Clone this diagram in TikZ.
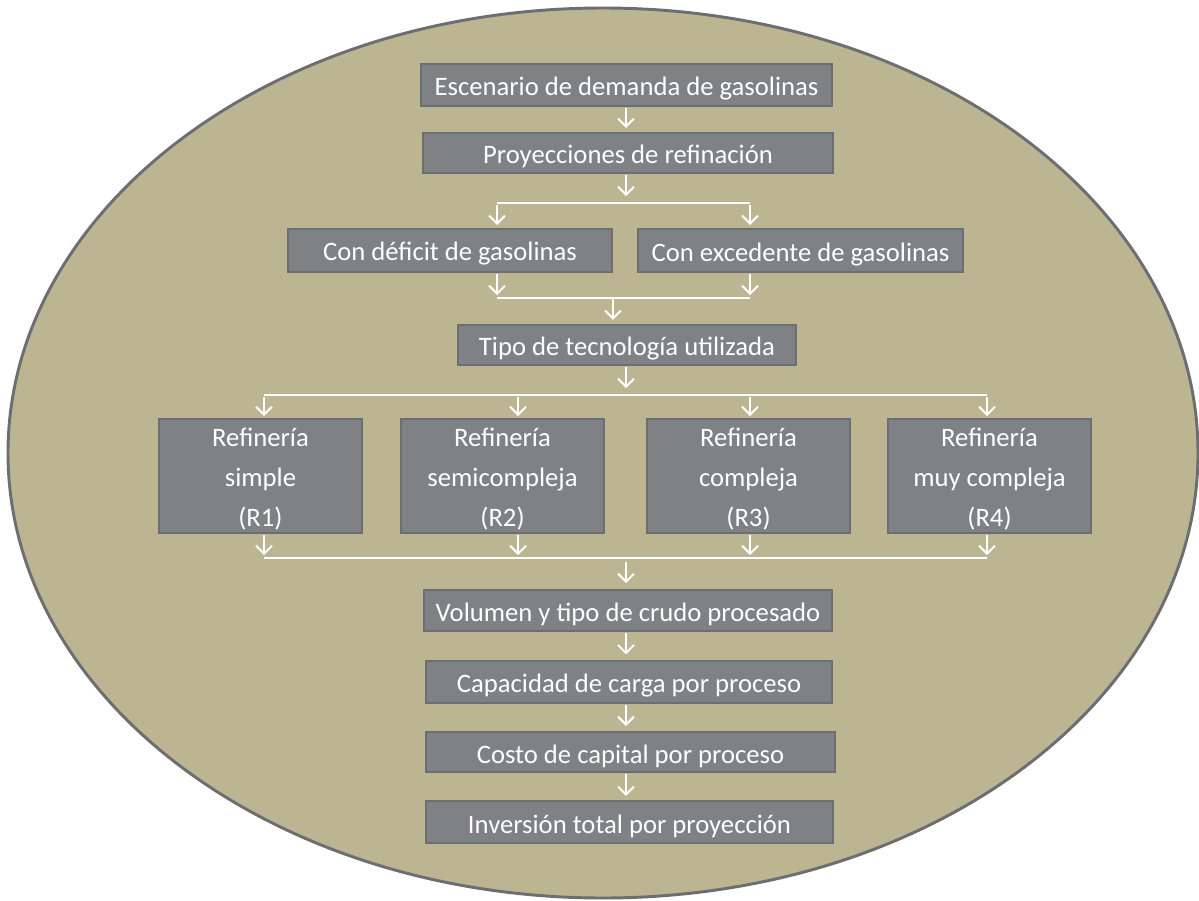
\documentclass[tikz,border=0pt]{standalone}
\usepackage{fontspec}
\setmainfont{Carlito}
\usetikzlibrary{arrows.meta}
\definecolor{olivebg}{HTML}{BBB592}
\definecolor{ellborder}{HTML}{6D6E71}
\definecolor{boxfill}{HTML}{808185}
\definecolor{boxborder}{HTML}{6D6E71}
\tikzset{
  box/.style={draw=boxborder, line width=0.8pt, fill=boxfill, inner sep=0pt, outer sep=0pt},
  boxtext/.style={text=white, inner sep=0pt, align=center, font=\fontsize{20}{30}\selectfont},
  wl/.style={draw=white, line width=1.5pt},
  arr/.style={draw=white, line width=1.5pt, -{Straight Barb[length=6pt,width=12pt,line width=1.5pt]},
    shorten <=1.8pt, shorten >=3.8pt},
}
% name, x1, y1, x2, y2, text, text shift
\newcommand\mybox[7]{\node[box, minimum width=\fpeval{(#4-#2)*0.75}pt, minimum height=\fpeval{(#5-#3)*0.75}pt,
  label={[boxtext, yshift=#7]center:{#6}}] (#1) at ({(#2+#4)/2},{(#3+#5)/2}) {};}
\begin{document}
\begin{tikzpicture}[x=0.75pt,y=-0.75pt]
\useasboundingbox (0,0) rectangle (1199,900);
\draw[fill=olivebg, draw=ellborder, line width=2.2pt] (603,453) ellipse [x radius=595, y radius=445];

\mybox{b1}{421}{64}{832}{106}{Escenario de demanda de gasolinas}{-3pt}
\mybox{b2}{423}{133}{833}{173}{Proyecciones de refinación}{-2.5pt}
\mybox{d1}{288}{229}{612}{272}{Con déficit de gasolinas}{-2.5pt}
\mybox{d2}{638}{229}{963}{272}{Con excedente de gasolinas}{-3pt}
\mybox{b5}{458}{325}{796}{365}{Tipo de tecnología utilizada}{-3pt}
\mybox{r1}{159}{419}{362}{533}{Refinería\\simple\\(R1)}{-2.25pt}
\mybox{r2}{401}{419}{604}{533}{Refinería\\semicompleja\\(R2)}{-2.25pt}
\mybox{r3}{647}{419}{850}{533}{Refinería\\compleja\\(R3)}{-2.25pt}
\mybox{r4}{888}{419}{1091}{533}{Refinería\\muy compleja\\(R4)}{-2.25pt}
\mybox{b6}{424}{590}{832}{631}{Volumen y tipo de crudo procesado}{-3pt}
\mybox{b7}{426}{661}{832}{703}{Capacidad de carga por proceso}{-3pt}
\mybox{b8}{426}{732}{835}{772}{Costo de capital por proceso}{-3pt}
\mybox{b9}{426}{801}{833}{843}{Inversión total por proyección}{-3pt}

\coordinate (xm) at (626,0);
% top chain
\draw[arr] (b1.south -| xm) -- (b2.north -| xm);
\coordinate (j1) at (626,203);
\coordinate (j1l) at (497,203);
\coordinate (j1r) at (750,203);
\draw[arr, shorten >=5.2pt] (b2.south -| xm) -- (j1);
\draw[wl] (j1l) -- (j1r);
\draw[arr, shorten >=3pt] (j1l) -- (d1.north -| j1l);
\draw[arr, shorten >=3pt] (j1r) -- (d2.north -| j1r);
% merge
\coordinate (j2l) at (497,298);
\coordinate (j2r) at (750,298);
\coordinate (j2) at (613,298);
\draw[arr, shorten >=2.2pt] (d1.south -| j2l) -- (j2l);
\draw[arr, shorten >=2.2pt] (d2.south -| j2r) -- (j2r);
\draw[wl] (j2l) -- (j2r);
\draw[arr, shorten <=0pt] (j2) -- (b5.north -| j2);
% split into four
\coordinate (j3) at (626,395);
\coordinate (k1) at (264,395);
\coordinate (k2) at (518,395);
\coordinate (k3) at (750,395);
\coordinate (k4) at (987,395);
\draw[arr, shorten >=5.2pt] (b5.south -| xm) -- (j3);
\draw[wl] (k1) -- (k4);
\foreach \k/\r in {k1/r1,k2/r2,k3/r3,k4/r4}{
  \draw[arr, shorten >=2.2pt] (\k) -- (\r.north -| \k);
}
% merge four
\coordinate (m1) at (264,558);
\coordinate (m2) at (518,558);
\coordinate (m3) at (750,558);
\coordinate (m4) at (987,558);
\coordinate (mm) at (626,558);
\foreach \m/\r in {m1/r1,m2/r2,m3/r3,m4/r4}{
  \draw[arr, shorten >=2.2pt] (\r.south -| \m) -- (\m);
}
\draw[wl] (m1) -- (m4);
\draw[arr, shorten <=3pt, shorten >=5.2pt] (mm) -- (b6.north -| xm);
% bottom chain
\draw[arr, shorten >=5pt] (b6.south -| xm) -- (b7.north -| xm);
\draw[arr, shorten >=4.5pt] (b7.south -| xm) -- (b8.north -| xm);
\draw[arr] (b8.south -| xm) -- (b9.north -| xm);
\end{tikzpicture}
\end{document}
